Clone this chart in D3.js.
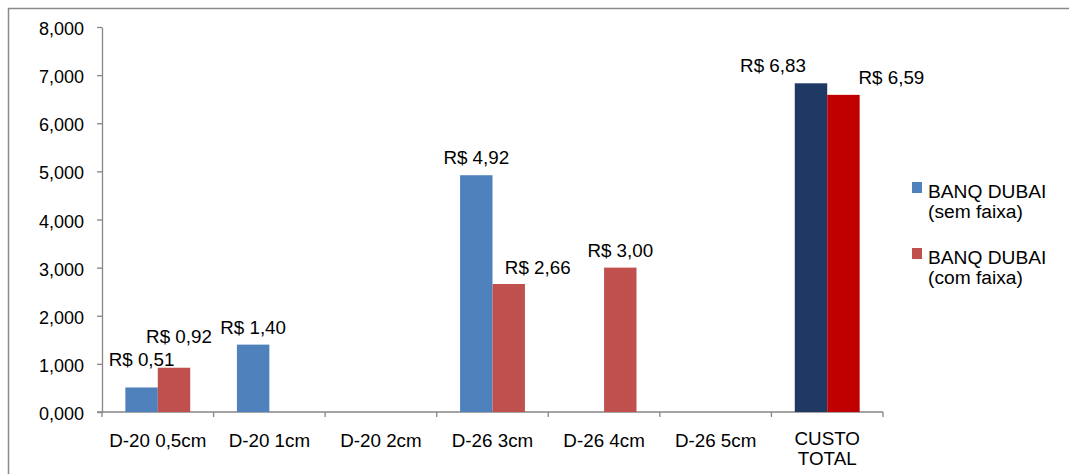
<!DOCTYPE html>
<html>
<head>
<meta charset="utf-8">
<script src="https://cdn.jsdelivr.net/npm/d3@7"></script>
<style>
  html, body { margin: 0; padding: 0; background: #fff; }
  svg text { font-family: "Liberation Sans", Arial, sans-serif; fill: #000; }
</style>
</head>
<body>
<svg id="chart" width="1069" height="474"></svg>
<script>
// Categories along the x axis (multi-line labels split on "\n")
const categories = ["D-20 0,5cm", "D-20 1cm", "D-20 2cm", "D-26 3cm", "D-26 4cm", "D-26 5cm", "CUSTO\nTOTAL"];
const seriesNames = ["BANQ DUBAI\n(sem faixa)", "BANQ DUBAI\n(com faixa)"];
const semFaixa = [0.51, 1.40, 0, 4.92, 0, 0, 6.83];
const comFaixa = [0.92, 0, 0, 2.66, 3.00, 0, 6.59];
const yTicks = [0, 1, 2, 3, 4, 5, 6, 7, 8];

// Fill colours: regular series colours and the darker ones used for the total column
const seriesColors = ["#4F81BD", "#C0504D"];
const totalColors = ["#1F3864", "#C00000"];

// Label nudges (dx, dy) so overlapping value labels stay readable
const labelNudge = [
  [[0, -10], [0, 0], [0, 0], [0, 0], [0, 0], [0, 0], [-38, 0]],
  [[5, -14], [0, 0], [0, 0], [29, 1], [0, 0], [0, 0], [48, 0]]
];

const svg = d3.select("#chart");
const plot = { left: 102, right: 883, top: 27, bottom: 412 };

// Outer frame (runs off the right and bottom edges)
svg.append("rect")
  .attr("x", 8.5).attr("y", 8.5)
  .attr("width", 1080).attr("height", 480)
  .attr("fill", "none").attr("stroke", "#8a8a8a").attr("stroke-width", 1.5);

const x = d3.scaleBand().domain(categories).range([plot.left, plot.right]).padding(0);
const xs = d3.scaleBand().domain([0, 1]).range([0, x.bandwidth()]).paddingInner(0).paddingOuter(0.72);
const y = d3.scaleLinear().domain([0, 8]).range([plot.bottom, plot.top]);

const fmtTick = v => d3.format(".3f")(v).replace(".", ",");
const fmtLabel = v => "R$ " + d3.format(".2f")(v).replace(".", ",");

// Y axis
const yAxis = svg.append("g")
  .attr("transform", `translate(${plot.left},0)`)
  .call(d3.axisLeft(y).tickValues(yTicks).tickFormat(fmtTick).tickSize(5).tickSizeOuter(0).tickPadding(13));
yAxis.select(".domain").attr("stroke", "#868686").attr("stroke-width", 1.3);
yAxis.selectAll(".tick line").attr("stroke", "#868686").attr("stroke-width", 1.3);
yAxis.selectAll(".tick text")
  .style("font-size", "18px").attr("dy", "0.42em");

// X axis with boundary ticks between categories
const xAxisG = svg.append("g").attr("transform", `translate(0,${plot.bottom})`);
xAxisG.append("line")
  .attr("x1", plot.left - 5).attr("x2", plot.right)
  .attr("y1", 0).attr("y2", 0)
  .attr("stroke", "#868686").attr("stroke-width", 1.3);
const boundaries = categories.map(c => x(c)).concat([plot.right]);
xAxisG.selectAll("line.bt").data(boundaries).join("line")
  .attr("class", "bt")
  .attr("x1", d => d).attr("x2", d => d)
  .attr("y1", 0).attr("y2", 5)
  .attr("stroke", "#868686").attr("stroke-width", 1.3);
const catLabels = xAxisG.selectAll("text.cat").data(categories).join("text")
  .attr("class", "cat")
  .attr("text-anchor", "middle")
  .style("font-size", "18.8px")
  .attr("transform", d => `translate(${x(d) + x.bandwidth() / 2},0)`);
catLabels.each(function(d) {
  const lines = d.split("\n");
  const t = d3.select(this);
  lines.forEach((ln, i) => {
    t.append("tspan").attr("x", 0).attr("y", (lines.length > 1 ? 33 : 35) + i * 20).text(ln);
  });
});

// Bars
const seriesData = [semFaixa, comFaixa];
const barsG = svg.append("g");
seriesData.forEach((vals, s) => {
  barsG.selectAll(`rect.s${s}`).data(vals.map((v, i) => ({ v, i })).filter(d => d.v > 0)).join("rect")
    .attr("class", `s${s}`)
    .attr("x", d => x(categories[d.i]) + xs(s))
    .attr("width", xs.bandwidth())
    .attr("y", d => y(d.v))
    .attr("height", d => y(0) - y(d.v))
    .attr("fill", d => d.i === categories.length - 1 ? totalColors[s] : seriesColors[s]);
});

// Value labels
const labelsG = svg.append("g");
seriesData.forEach((vals, s) => {
  labelsG.selectAll(`text.l${s}`).data(vals.map((v, i) => ({ v, i })).filter(d => d.v > 0)).join("text")
    .attr("class", `l${s}`)
    .attr("text-anchor", "middle")
    .style("font-size", "18.8px")
    .attr("x", d => x(categories[d.i]) + xs(s) + xs.bandwidth() / 2 + labelNudge[s][d.i][0])
    .attr("y", d => y(d.v) - 11 + labelNudge[s][d.i][1])
    .text(d => fmtLabel(d.v));
});

// Legend
const legend = svg.append("g").attr("transform", "translate(912,182)");
seriesNames.forEach((name, s) => {
  const g = legend.append("g").attr("transform", `translate(0,${s * 66})`);
  g.append("rect").attr("x", 0).attr("y", 0).attr("width", 10).attr("height", 11).attr("fill", seriesColors[s]);
  const t = g.append("text").style("font-size", "19.2px");
  name.split("\n").forEach((ln, i) => {
    t.append("tspan").attr("x", 16).attr("y", 16 + i * 20).text(ln);
  });
});
</script>
</body>
</html>
